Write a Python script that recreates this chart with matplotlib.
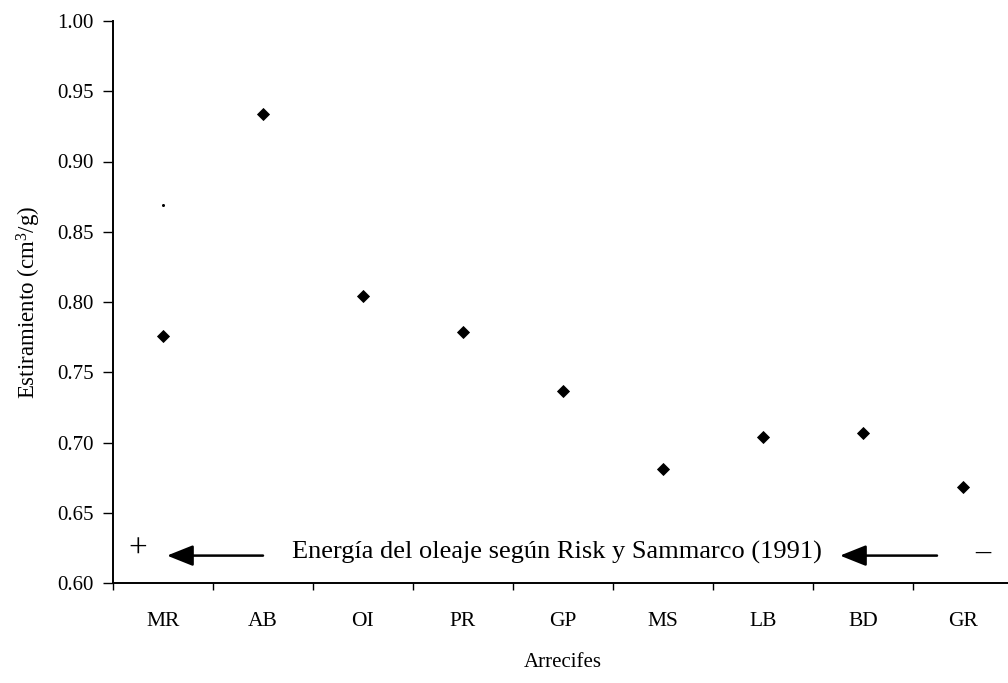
import matplotlib
matplotlib.use("Agg")
import matplotlib.pyplot as plt
import numpy as np

plt.rcParams['font.family'] = ['Liberation Serif', 'DejaVu Serif']
plt.rcParams['mathtext.fontset'] = 'custom'
plt.rcParams['mathtext.rm'] = 'Liberation Serif'
plt.rcParams['mathtext.it'] = 'Liberation Serif:italic'

# Data
reefs = ["MR", "AB", "OI", "PR", "GP", "MS", "LB", "BD", "GR"]
estiramiento = [0.776, 0.934, 0.804, 0.779, 0.737, 0.681, 0.704, 0.707, 0.668]
stray_reef = ["MR"]
stray_value = [0.869]
yticks = [0.60, 0.65, 0.70, 0.75, 0.80, 0.85, 0.90, 0.95, 1.00]

W, H = 1008, 683
fig = plt.figure(figsize=(W / 100, H / 100), dpi=100)
left, right, bottom, top = 113, 1013, 583, 21
ax = fig.add_axes([left / W, 1 - bottom / H, (right - left) / W, (bottom - top) / H])

x = np.arange(len(reefs))
ax.plot(x, estiramiento, linestyle='none', marker='D', markersize=6.3,
        color='black', markeredgewidth=0.6, markeredgecolor='black')
sx = [reefs.index(r) for r in stray_reef]
ax.plot(sx, stray_value, linestyle='none', marker='o', markersize=2.2,
        color='black', markeredgewidth=0)

ax.set_xlim(-0.5, len(reefs) - 0.5)
ax.set_ylim(0.60, 1.00)
ax.set_xticks(x)
ax.set_xticklabels(reefs, fontsize=15.5)
ax.set_xticks(np.arange(-0.5, len(reefs), 1.0), minor=True)
ax.tick_params(axis='x', which='major', length=0, pad=21)
ax.tick_params(axis='x', which='minor', length=5, width=1, direction='out')
ax.set_yticks(yticks)
ax.set_yticklabels([f"{v:.2f}" for v in yticks], fontsize=15)
ax.tick_params(axis='y', which='major', length=7, width=1, direction='out', pad=7)

for s in ['top', 'right']:
    ax.spines[s].set_visible(False)
for s in ['left', 'bottom']:
    ax.spines[s].set_linewidth(1.4)

ax.set_xlabel("Arrecifes", fontsize=15, labelpad=16)
ax.set_ylabel(r"Estiramiento (cm$^3$/g)", fontsize=16.5, labelpad=10)

# Wave energy annotation
arrow_style = dict(arrowstyle='-|>,head_length=1.0,head_width=0.4',
                   mutation_scale=16, lw=1.8, color='black',
                   shrinkA=0, shrinkB=0)
ax.text(-0.25, 0.6235, "+", fontsize=24, ha='center', va='center', color='black')
ax.annotate("", xy=(0.04, 0.6195), xytext=(1.0, 0.6195), arrowprops=arrow_style)
ax.text(1.29, 0.6215, "Energía del oleaje según Risk y Sammarco (1991)",
        fontsize=19, ha='left', va='center', color='black')
ax.annotate("", xy=(6.77, 0.6195), xytext=(7.74, 0.6195), arrowprops=arrow_style)
ax.text(8.2, 0.6215, "\u2013", fontsize=22, ha='center', va='center', color='black')

fig.savefig("out.png", dpi=100)
